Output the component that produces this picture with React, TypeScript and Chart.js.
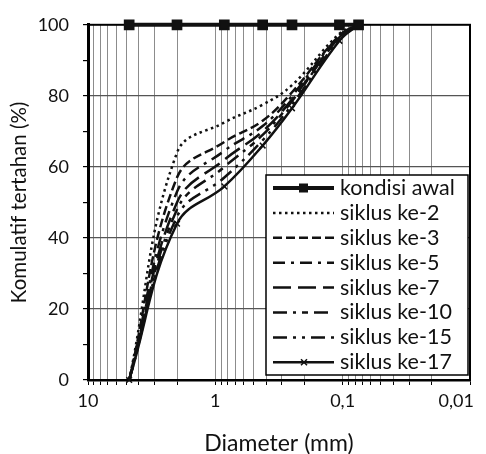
import React, { useEffect, useRef } from "react";
import { Chart, registerables } from "chart.js";

Chart.register(...registerables);

// ---- data ----
const sieveSizes = [4.75, 2, 0.85, 0.425, 0.25, 0.106, 0.075];
const seriesNames = [
  "kondisi awal",
  "siklus ke-2",
  "siklus ke-3",
  "siklus ke-5",
  "siklus ke-7",
  "siklus ke-10",
  "siklus ke-15",
  "siklus ke-17",
];
const kondisiAwal = [100, 100, 100, 100, 100, 100, 100];
const siklus2 = [0, 64, 72.5, 77.5, 83, 97.5, 100];
const siklus3 = [0, 57, 67, 73, 81, 97, 100];
const siklus5 = [0, 53, 64.5, 71.5, 80, 97, 100];
const siklus7 = [0, 50, 62, 70, 79, 96.5, 100];
const siklus10 = [0, 48, 60, 69, 78.5, 96.5, 100];
const siklus15 = [0, 46, 57, 67.5, 77.5, 96, 100];
const siklus17 = [0, 44, 54.5, 66, 76.5, 95.5, 100];

const xMajorTicks = [10, 1, 0.1, 0.01];
const xMajorLabels = ["10", "1", "0,1", "0,01      "];
const yTickLabelValues = [0, 20, 40, 60, 80, 100];

const FONT = "Lato, 'Open Sans', sans-serif";

type Style = { w: number; dash: number[]; point: any; r: number };
const styles: Style[] = [
  { w: 4, dash: [], point: "rect", r: 6.5 },
  { w: 2.5, dash: [2.5, 3.5], point: false, r: 0 },
  { w: 2.5, dash: [9, 4], point: false, r: 0 },
  { w: 2.5, dash: [12, 6, 3, 6], point: false, r: 0 },
  { w: 2.5, dash: [18, 7], point: false, r: 0 },
  { w: 2.5, dash: [14, 6, 3, 6, 6, 6], point: false, r: 0 },
  { w: 2.5, dash: [14, 6, 3, 6, 3, 6], point: false, r: 0 },
  { w: 2.5, dash: [], point: "crossRot", r: 4 },
];

export default function App() {
  const ref = useRef<HTMLCanvasElement>(null);

  useEffect(() => {
    if (!ref.current) return;
    const seriesValues = [kondisiAwal, siklus2, siklus3, siklus5, siklus7, siklus10, siklus15, siklus17];

    const datasets = seriesValues.map((vals, i) => ({
      label: seriesNames[i],
      data: sieveSizes.map((s, j) => ({ x: s, y: vals[j] })),
      borderColor: "#111",
      backgroundColor: "#111",
      borderWidth: styles[i].w,
      borderDash: styles[i].dash,
      pointStyle: styles[i].point,
      pointRadius: styles[i].r,
      pointBorderWidth: 1.5,
      pointBorderColor: "#111",
      pointBackgroundColor: "#111",
      tension: i === 0 ? 0 : 0.4,
      clip: false as any,
    }));

    const framePlugin = {
      id: "frame",
      beforeDatasetsDraw(chart: any) {
        const { ctx, chartArea: a } = chart;
        ctx.save();
        ctx.strokeStyle = "#000";
        ctx.lineWidth = 2;
        ctx.strokeRect(a.left, a.top, a.right - a.left, a.bottom - a.top);
        ctx.restore();
      },
    };

    const legendPlugin = {
      id: "customLegend",
      afterDraw(chart: any) {
        const { ctx } = chart;
        const bx = 266, by = 175, bw = 202, bh = 200;
        ctx.save();
        ctx.fillStyle = "#fff";
        ctx.fillRect(bx, by, bw, bh);
        ctx.strokeStyle = "#000";
        ctx.lineWidth = 1.5;
        ctx.strokeRect(bx, by, bw, bh);
        const rowH = 24.9;
        chart.data.datasets.forEach((ds: any, i: number) => {
          const y = 188 + i * rowH;
          const st = styles[i];
          ctx.strokeStyle = "#111";
          ctx.lineWidth = st.w;
          ctx.setLineDash(st.dash);
          ctx.beginPath();
          ctx.moveTo(273, y);
          ctx.lineTo(334, y);
          ctx.stroke();
          ctx.setLineDash([]);
          if (st.point === "rect") {
            ctx.fillStyle = "#111";
            ctx.fillRect(299, y - 4.5, 9, 9);
          } else if (st.point === "crossRot") {
            ctx.lineWidth = 1.5;
            ctx.beginPath();
            ctx.moveTo(301, y - 3);
            ctx.lineTo(307, y + 3);
            ctx.moveTo(307, y - 3);
            ctx.lineTo(301, y + 3);
            ctx.stroke();
          }
          ctx.fillStyle = "#111";
          ctx.font = `21.5px ${FONT}`;
          ctx.textBaseline = "middle";
          ctx.textAlign = "left";
          ctx.fillText(ds.label, 340, y);
        });
        ctx.restore();
      },
    };

    const isMajor = (v: number) => xMajorTicks.findIndex((m) => Math.abs(v - m) / m < 1e-6);

    const chart = new Chart(ref.current, {
      type: "line",
      data: { datasets: datasets as any },
      plugins: [framePlugin, legendPlugin],
      options: {
        animation: false,
        responsive: false,
        layout: { padding: { top: 21, right: 16, left: 0, bottom: 0 } },
        plugins: { legend: { display: false }, tooltip: { enabled: false } },
        scales: {
          x: {
            type: "logarithmic",
            reverse: true,
            min: 0.01,
            max: 10,
            afterBuildTicks: (scale: any) => {
              const t: any[] = [];
              [0.01, 0.1, 1].forEach((d) => {
                for (let k = 1; k <= 9; k++) t.push({ value: Number((k * d).toPrecision(3)) });
              });
              t.push({ value: 10 });
              scale.ticks = t;
            },
            afterFit: (scale: any) => {
              scale.height = 74;
            },
            border: { display: true, color: "#000", width: 2.5 },
            grid: {
              color: "#8c8c8c",
              lineWidth: 1,
              drawTicks: true,
              tickLength: 5,
              tickColor: "#000",
            },
            ticks: {
              autoSkip: false,
              maxRotation: 0,
              padding: 5,
              color: "#111",
              font: { family: FONT, size: 18 },
              callback: (v: any) => {
                const idx = isMajor(Number(v));
                return idx >= 0 ? xMajorLabels[idx] : "";
              },
            },
            title: {
              display: true,
              text: "Diameter (mm)",
              color: "#111",
              font: { family: FONT, size: 23, lineHeight: 0.9 },
              padding: { top: 0, bottom: 0 },
            },
          },
          y: {
            type: "linear",
            min: 0,
            max: 100,
            afterBuildTicks: (scale: any) => {
              const t: any[] = [];
              for (let v = 0; v <= 100; v += 5) t.push({ value: v });
              scale.ticks = t;
            },
            afterFit: (scale: any) => {
              scale.width = 88;
            },
            border: { display: true, color: "#000", width: 3 },
            grid: {
              color: (ctx: any) => {
                const v = ctx.tick ? ctx.tick.value : 0;
                return v % 20 === 0 && v > 0 && v < 100 ? "#555" : "rgba(0,0,0,0)";
              },
              lineWidth: 1.2,
              drawTicks: true,
              tickLength: 5,
              tickColor: "#000",
            },
            ticks: {
              padding: 14,
              color: "#111",
              font: { family: FONT, size: 18 },
              callback: (v: any) => (yTickLabelValues.includes(Number(v)) ? String(v) : ""),
            },
            title: {
              display: true,
              text: "Komulatif tertahan (%)",
              color: "#111",
              font: { family: FONT, size: 20.5 },
              padding: { top: 7, bottom: 0 },
            },
          },
        },
      },
    });
    return () => chart.destroy();
  }, []);

  return (
    <canvas
      ref={ref}
      width={486}
      height={454}
      style={{ position: "fixed", left: 0, top: 0, display: "block", background: "#fff" }}
    />
  );
}
